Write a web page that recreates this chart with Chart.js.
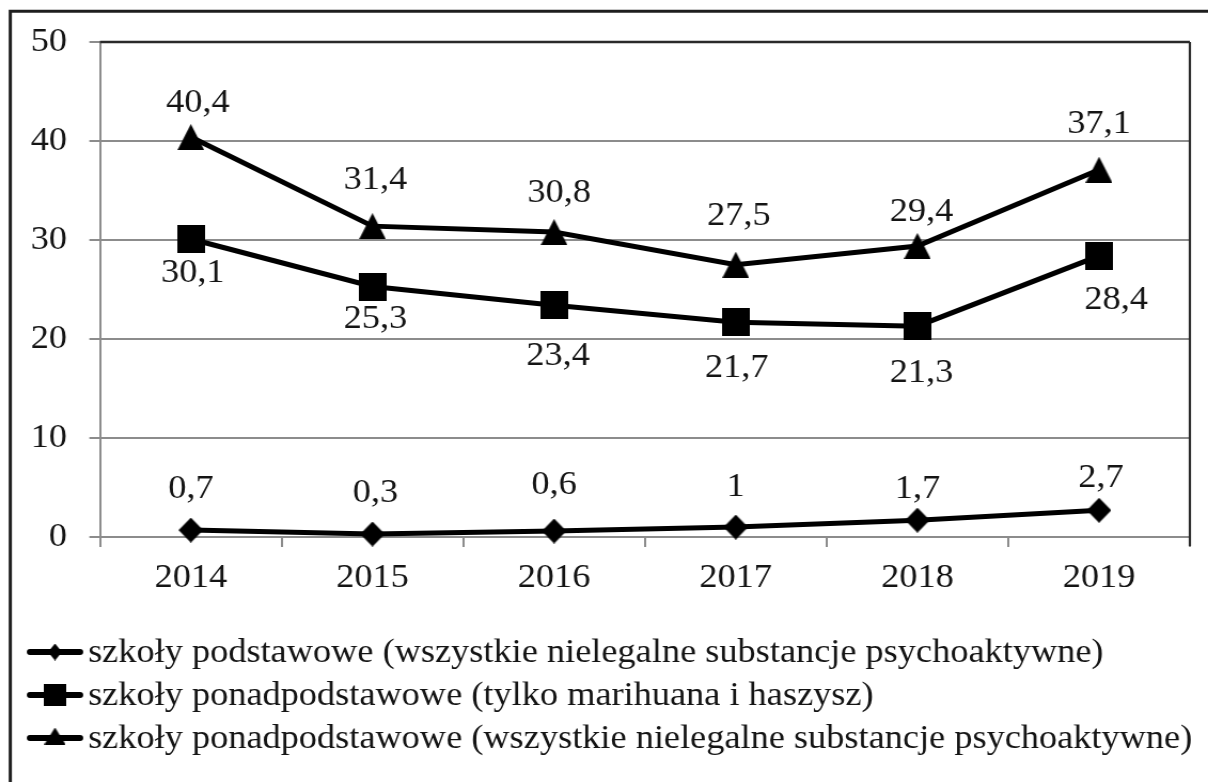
<!DOCTYPE html>
<html><head><meta charset="utf-8">
<script src="https://cdn.jsdelivr.net/npm/chart.js@4.4.1/dist/chart.umd.min.js"></script>
<style>
html,body{margin:0;padding:0;background:#fff;overflow:hidden;width:1208px;height:782px;}
#wrap{position:absolute;left:0;top:0;width:1131px;height:782px;transform:scaleX(1.0681);transform-origin:0 0;}
</style></head><body>
<div id="wrap"><canvas id="chart"></canvas></div>
<script>
// ---- data ----
const categories = ['2014', '2015', '2016', '2017', '2018', '2019'];
const podstawoweWszystkie = [0.7, 0.3, 0.6, 1, 1.7, 2.7];
const ponadMarihuana = [30.1, 25.3, 23.4, 21.7, 21.3, 28.4];
const ponadWszystkie = [40.4, 31.4, 30.8, 27.5, 29.4, 37.1];
const seriesNames = [
  'szkoły podstawowe (wszystkie nielegalne substancje psychoaktywne)',
  'szkoły ponadpodstawowe (tylko marihuana i haszysz)',
  'szkoły ponadpodstawowe (wszystkie nielegalne substancje psychoaktywne)'
];
const yTicks = [0, 10, 20, 30, 40, 50];

// ---- styling ----
const S = 1208 / 1131;               // horizontal stretch of the reference
const FONT = "'Liberation Serif', 'Times New Roman', serif";
const FS = 34;
const INK = '#141414';
const GRID = '#8c8c8c';

function shape(kind, wReal, h) {
  const w = Math.max(2, Math.round(wReal / S));
  const c = document.createElement('canvas');
  c.width = w; c.height = h;
  const g = c.getContext('2d');
  g.fillStyle = '#000';
  g.beginPath();
  if (kind === 'tri') { g.moveTo(w / 2, 0); g.lineTo(w, h); g.lineTo(0, h); }
  else if (kind === 'sq') { g.rect(0, 0, w, h); }
  else { g.moveTo(w / 2, 0); g.lineTo(w, h / 2); g.lineTo(w / 2, h); g.lineTo(0, h / 2); }
  g.closePath(); g.fill();
  return c;
}
const markers = [shape('dia', 25, 25), shape('sq', 28, 28), shape('tri', 27, 26)];
const legendMarkers = [shape('dia', 14, 17), shape('sq', 22, 22), shape('tri', 21, 17)];

// label offsets (real px) relative to the point: [dx, dy]
const labelOffsets = [
  [[0, -42], [3, -42], [0, -47], [0, -41], [0, -32], [2, -33]],
  [[2, 33], [3, 32], [4, 50], [1, 45], [4, 46], [17, 43]],
  [[7, -35], [3, -47], [5, -40], [3, -50], [4, -35], [0, -47]]
];

const fmt = v => String(v).replace('.', ',');

const bgPlugin = {
  id: 'bg',
  beforeDraw(chart) {
    const ctx = chart.ctx;
    ctx.save(); ctx.fillStyle = '#fff'; ctx.fillRect(0, 0, chart.width, chart.height); ctx.restore();
  },
  afterDraw(chart) {
    const ctx = chart.ctx, a = chart.chartArea;
    ctx.save();
    // plot frame top / right (dark)
    ctx.strokeStyle = '#2a2a2a'; ctx.lineWidth = 2.5;
    ctx.beginPath(); ctx.moveTo(a.left, a.top); ctx.lineTo(a.right, a.top); ctx.stroke();
    ctx.lineWidth = 2.2;
    ctx.beginPath(); ctx.moveTo(a.right, a.top); ctx.lineTo(a.right, a.bottom + 9); ctx.stroke();
    // outer frame (left / top visible)
    ctx.strokeStyle = '#1e1e1e'; ctx.lineWidth = 3;
    ctx.beginPath(); ctx.moveTo(10.3 / S, chart.height + 5); ctx.lineTo(10.3 / S, 11.3); ctx.lineTo(chart.width + 5, 11.3); ctx.stroke();
    // legend
    const rows = [652, 695, 738];
    ctx.font = FS + 'px ' + FONT;
    ctx.fillStyle = INK; ctx.textAlign = 'left'; ctx.textBaseline = 'middle';
    chart.data.datasets.forEach((ds, i) => {
      const y = rows[i];
      ctx.strokeStyle = '#000'; ctx.lineWidth = 6; ctx.lineCap = 'round';
      ctx.beginPath(); ctx.moveTo(30 / S, y); ctx.lineTo(80 / S, y); ctx.stroke();
      const m = legendMarkers[i];
      ctx.drawImage(m, 55 / S - m.width / 2, y - m.height / 2 - (i === 2 ? 2 : 0));
      ctx.fillText(ds.label, 88 / S, y + 1);
    });
    ctx.restore();
  }
};

const labelPlugin = {
  id: 'valueLabels',
  afterDatasetsDraw(chart) {
    const ctx = chart.ctx;
    ctx.save();
    ctx.font = FS + 'px ' + FONT;
    ctx.fillStyle = INK; ctx.textAlign = 'center'; ctx.textBaseline = 'middle';
    chart.data.datasets.forEach((ds, i) => {
      const meta = chart.getDatasetMeta(i);
      meta.data.forEach((el, j) => {
        const off = labelOffsets[i][j];
        ctx.fillText(fmt(ds.data[j]), el.x + off[0] / S, el.y + off[1] + 1);
      });
    });
    ctx.restore();
  }
};

function ds(label, data, idx) {
  return {
    label, data,
    borderColor: '#000', backgroundColor: '#000', borderWidth: 5,
    pointStyle: markers[idx], pointRadius: 12, pointHoverRadius: 12,
    tension: 0, clip: false
  };
}

Chart.defaults.font.family = FONT;
Chart.defaults.color = INK;

new Chart(document.getElementById('chart'), {
  type: 'line',
  data: {
    labels: categories,
    datasets: [
      ds(seriesNames[0], podstawoweWszystkie, 0),
      ds(seriesNames[1], ponadMarihuana, 1),
      ds(seriesNames[2], ponadWszystkie, 2)
    ]
  },
  options: {
    responsive: true, maintainAspectRatio: false, animation: false, events: [],
    layout: { padding: { top: 42, left: 0, right: 13, bottom: 185 } },
    plugins: { legend: { display: false }, tooltip: { enabled: false } },
    scales: {
      x: {
        type: 'category', offset: true,
        grid: { offset: true, drawOnChartArea: false, drawTicks: true, tickLength: 10, color: GRID, lineWidth: 2 },
        border: { display: true, color: GRID, width: 2 },
        ticks: { font: { size: FS, family: FONT }, color: INK, padding: 11, maxRotation: 0, autoSkip: false },
        afterFit(s) { s.height = 60; }
      },
      y: {
        min: 0, max: 50,
        afterBuildTicks(s) { s.ticks = yTicks.map(v => ({ value: v })); },
        grid: { color: GRID, lineWidth: 2, tickLength: 10, drawTicks: true },
        border: { display: true, color: GRID, width: 2 },
        ticks: { font: { size: FS, family: FONT }, color: INK, padding: 21, callback: v => fmt(v) },
        afterFit(s) { s.width = 100 / S; }
      }
    }
  },
  plugins: [bgPlugin, labelPlugin]
});
</script>
</body></html>
